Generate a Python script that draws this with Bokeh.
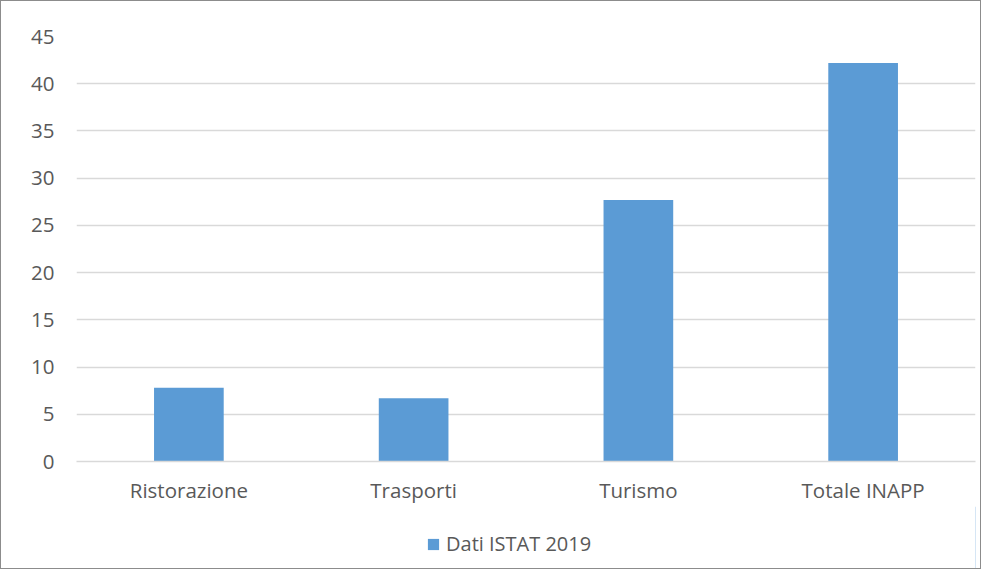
from bokeh.plotting import figure
from bokeh.layouts import column
from bokeh.models import ColumnDataSource, Range1d, FixedTicker, Legend, LegendItem
from bokeh.embed import file_html
from bokeh.resources import INLINE

categories = ["Ristorazione", "Trasporti", "Turismo", "Totale INAPP"]
values = [7.8, 6.7, 27.7, 42.2]
series_name = "Dati ISTAT 2019"
y_ticks = [0, 5, 10, 15, 20, 25, 30, 35, 40, 45]

FONT = "Open Sans"
TXT = "#595959"
BAR = "#5B9BD5"
GRID = "#D9D9D9"

src = ColumnDataSource(dict(cat=categories, val=values))

p = figure(x_range=categories, y_range=Range1d(0, 45), width=979, height=505,
           output_backend="svg", toolbar_location=None,
           min_border_left=75, min_border_right=5, min_border_top=35, min_border_bottom=45)
p.outline_line_color = None
p.x_range.range_padding = 0

r = p.vbar(x="cat", top="val", width=0.31, source=src, fill_color=BAR, line_color=None)

p.yaxis.ticker = FixedTicker(ticks=y_ticks)
p.ygrid.ticker = FixedTicker(ticks=y_ticks)
p.ygrid.grid_line_color = GRID
p.ygrid.grid_line_width = 1.3
p.xgrid.grid_line_color = None

for ax in (p.xaxis[0], p.yaxis[0]):
    ax.major_tick_line_color = None
    ax.minor_tick_line_color = None
    ax.major_tick_out = 0
    ax.major_tick_in = 0
    ax.major_label_text_font = FONT
    ax.major_label_text_font_size = "20.5px"
    ax.major_label_text_color = TXT
p.yaxis.axis_line_color = None
p.xaxis.axis_line_color = GRID
p.xaxis.axis_line_width = 1.3
p.yaxis.major_label_standoff = 22
p.xaxis.major_label_standoff = 14

# legend strip below the chart (swatch proxy sits outside the visible range)
p2 = figure(width=979, height=62, x_range=Range1d(0, 1), y_range=Range1d(0, 1),
            x_axis_type=None, y_axis_type=None, output_backend="svg", toolbar_location=None,
            min_border_left=0, min_border_right=0, min_border_top=0, min_border_bottom=0)
p2.outline_line_color = None
p2.grid.visible = False
r2 = p2.vbar(x=[5], top=[1], width=0.31, fill_color=BAR, line_color=None)
legend = Legend(items=[LegendItem(label=series_name, renderers=[r2])],
                location=(350, 11), orientation="horizontal",
                label_text_font=FONT, label_text_font_size="20px", label_text_color=TXT,
                glyph_width=14, glyph_height=14, label_standoff=6,
                border_line_color=None, background_fill_alpha=0,
                margin=0, padding=4)
p2.add_layout(legend, "center")

layout = column(p, p2, spacing=0)
layout.styles = {"border": "1.5px solid #8c8c8c", "box-sizing": "border-box"}

open("out.html", "w").write(file_html(layout, INLINE))
